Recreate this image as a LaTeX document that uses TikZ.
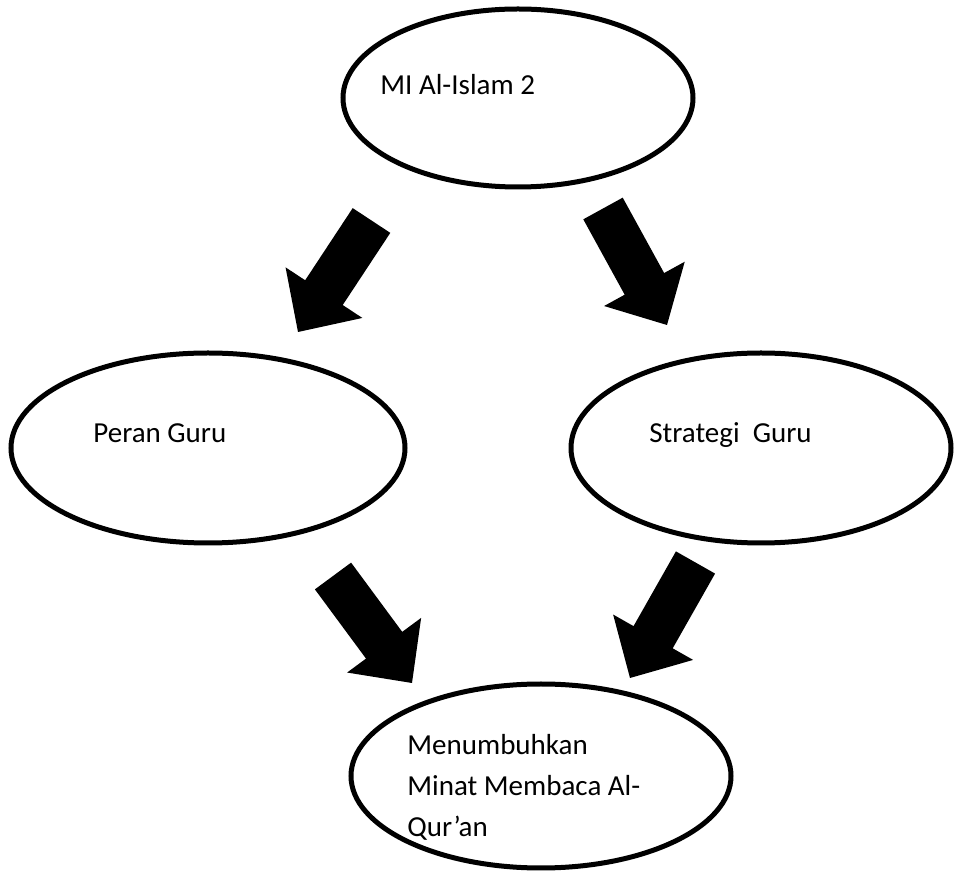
\documentclass[tikz,border=0pt]{standalone}
\usepackage{fontspec}
\setmainfont{Carlito}
\usetikzlibrary{shapes.geometric,calc}

\tikzset{
  bubble/.style={draw=black,ellipse,line width=2.5pt,inner sep=0pt},
  caption/.style={anchor=base west,inner sep=0pt,align=left,
    font=\fontsize{14.5}{20.7}\selectfont},
  blockfill/.style={fill=black}
}
% thick block arrow: name, tail, tip
\newcommand{\blockarrow}[3]{%
  \coordinate (#1h) at ($(#2)!0.647!(#3)$);
  \fill[blockfill] ($(#2)!11.25pt!90:(#3)$) -- ($(#1h)!11.25pt!90:(#3)$)
    -- ($(#1h)!23pt!90:(#3)$) -- (#3) -- ($(#1h)!23pt!-90:(#3)$)
    -- ($(#1h)!11.25pt!-90:(#3)$) -- ($(#2)!11.25pt!-90:(#3)$) -- cycle;
}

\begin{document}
\begin{tikzpicture}[x=0.5pt,y=-0.5pt]
  \useasboundingbox (0,0) rectangle (954,876);

  % ellipses
  \node[bubble,minimum width=175pt,minimum height=89pt] (school) at (518,98) {};
  \node[bubble,minimum width=197pt,minimum height=95pt] (role) at (208,448) {};
  \node[bubble,minimum width=190pt,minimum height=95pt] (strategy) at (761,448) {};
  \node[bubble,minimum width=190pt,minimum height=92pt] (interest) at (541,776) {};

  % texts (base of last line)
  \node[caption] (schooltxt) at (380,95) {MI Al-Islam 2};
  \node[caption] (roletxt) at (93,443) {Peran Guru};
  \node[caption] (strategytxt) at (649,443) {Strategi\ \ Guru};
  \node[caption] (interesttxt) at (407,837) {Menumbuhkan\\Minat Membaca Al-\\Qur’an};

  % arrow ends
  \coordinate (a1) at (371.5,220.5); \coordinate (b1) at (298,332);
  \coordinate (a2) at (603,208.5);   \coordinate (b2) at (667,325);
  \coordinate (a3) at (333,576);     \coordinate (b3) at (412,683);
  \coordinate (a4) at (695.5,562.5); \coordinate (b4) at (630,678);

  \blockarrow{ar1}{a1}{b1}
  \blockarrow{ar2}{a2}{b2}
  \blockarrow{ar3}{a3}{b3}
  \blockarrow{ar4}{a4}{b4}
\end{tikzpicture}
\end{document}
